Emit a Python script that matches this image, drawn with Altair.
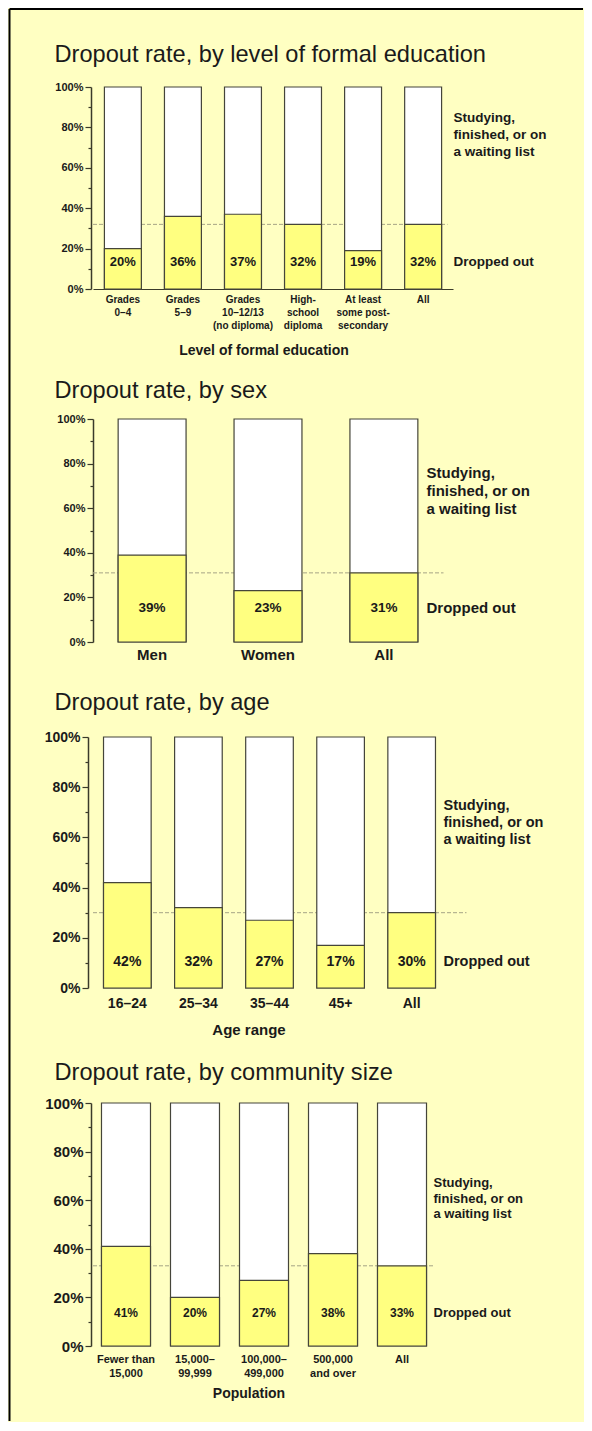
import altair as alt
import pandas as pd

FONT = "Liberation Sans"
BG = "#FFFFC2"
BAR_YELLOW = "#FFFF80"
STROKE = "#45453a"
AXIS_C = "#3a3a2a"
DASH_C = "#a6a485"
TEXT_C = "#1a1a1a"

edu_title = "Dropout rate, by level of formal education"
edu_categories = ["Grades\n0–4", "Grades\n5–9", "Grades\n10–12/13\n(no diploma)",
                  "High-\nschool\ndiploma", "At least\nsome post-\nsecondary", "All"]
edu_dropout = [20, 36, 37, 32, 19, 32]

sex_title = "Dropout rate, by sex"
sex_categories = ["Men", "Women", "All"]
sex_dropout = [39, 23, 31]

age_title = "Dropout rate, by age"
age_categories = ["16–24", "25–34", "35–44", "45+", "All"]
age_dropout = [42, 32, 27, 17, 30]

pop_title = "Dropout rate, by community size"
pop_categories = ["Fewer than\n15,000", "15,000–\n99,999", "100,000–\n499,000", "500,000\nand over", "All"]
pop_dropout = [41, 20, 27, 38, 33]

label_studying = "Studying,\nfinished, or on\na waiting list"
label_dropped = "Dropped out"
y_ticks = list(range(0, 101, 10))

BORDER_X = -83.5


def panel(title, cats, vals, c):
    df = pd.DataFrame({"cat": cats, "dropout": vals})
    one = pd.DataFrame({"k": [0]})
    W, H = c["W"], c["H"]
    xaxis_kw = dict(
        labelAngle=0, labelExpr="split(datum.label, '\\n')",
        labelFont=FONT, labelFontSize=c["xlab_fs"], labelFontWeight="bold",
        labelLineHeight=c["xlab_lh"], labelPadding=c["xlab_pad"], labelColor=TEXT_C,
        ticks=False, domain=c["baseline"], domainColor=AXIS_C, domainWidth=1.2,
        grid=False,
    )
    if c.get("xtitle"):
        xaxis_kw.update(title=c["xtitle"], titleFont=FONT, titleFontSize=c["xtitle_fs"],
                        titleFontWeight="bold", titleColor=TEXT_C,
                        titlePadding=c["xtitle_pad"], titleX=c["xtitle_x"])
    else:
        xaxis_kw.update(title=None)
    xenc = alt.X("cat:N", sort=cats,
                 scale=alt.Scale(paddingInner=c["pi"], paddingOuter=c["po"]),
                 axis=alt.Axis(**xaxis_kw))
    yscale = alt.Scale(domain=[0, 100], nice=False)
    yaxis = alt.Axis(
        title=None, values=y_ticks, grid=False,
        labelExpr="datum.value % 20 === 0 ? datum.value + '%' : ''",
        tickSize=alt.condition("datum.value % 20 === 0", alt.value(6), alt.value(3)),
        tickColor=AXIS_C, tickWidth=1.2, domainColor=AXIS_C, domainWidth=1.5,
        labelFont=FONT, labelFontSize=c["tick_fs"], labelFontWeight="bold",
        labelColor=TEXT_C, labelPadding=2, offset=c["yoff"],
    )

    white = alt.Chart(df).transform_calculate(full="100").mark_bar(
        fill="white", stroke=STROKE, strokeWidth=1.2
    ).encode(x=xenc, y=alt.Y("full:Q", scale=yscale, axis=yaxis))

    yellow = alt.Chart(df).mark_bar(
        fill=BAR_YELLOW, stroke=STROKE, strokeWidth=1.2
    ).encode(x=xenc, y=alt.Y("dropout:Q", scale=yscale, axis=yaxis))

    dash = alt.Chart(df).transform_filter(alt.datum.cat == "All").mark_rule(
        color=DASH_C, strokeWidth=1, strokeDash=[4, 2]
    ).encode(y=alt.Y("dropout:Q", scale=yscale, axis=yaxis),
             x=alt.value(0), x2=alt.value(c["dash_x2"]))

    pct = alt.Chart(df).transform_calculate(lbl="datum.dropout + '%'").mark_text(
        font=FONT, fontSize=c["pct_fs"], fontWeight="bold", color=TEXT_C, baseline="middle"
    ).encode(x=xenc, y=alt.value(c["pct_y"]), text="lbl:N")

    right1 = alt.Chart(one).mark_text(
        text=label_studying, lineBreak="\n", font=FONT, fontSize=c["right_fs"],
        fontWeight="bold", color=TEXT_C, align="left", baseline="middle",
        lineHeight=c["right_lh"]
    ).encode(x=alt.value(c["right_x"]), y=alt.value(c["studying_y"]))

    right2 = alt.Chart(one).mark_text(
        text=label_dropped, font=FONT, fontSize=c["right_fs"],
        fontWeight="bold", color=TEXT_C, align="left", baseline="middle"
    ).encode(x=alt.value(c["right_x"]), y=alt.value(c["dropped_y"]))

    ttl = alt.Chart(one).mark_text(
        text=title, font=FONT, fontSize=23.6, color=TEXT_C, align="left", baseline="alphabetic"
    ).encode(x=alt.value(-38.5), y=alt.value(c["title_y"]))

    border = alt.Chart(one).mark_rule(color="black", strokeWidth=2).encode(
        x=alt.value(BORDER_X), y=alt.value(c["top"]), y2=alt.value(c["bottom"]))

    layers = [border, dash, white, yellow, pct, right1, right2, ttl]
    if c.get("top_border"):
        topb = alt.Chart(one).mark_rule(color="black", strokeWidth=2).encode(
            x=alt.value(BORDER_X), x2=alt.value(490), y=alt.value(c["top"]))
        layers.insert(1, topb)
    return alt.layer(*layers).properties(width=W, height=H)


p1 = panel(edu_title, edu_categories, edu_dropout, dict(
    W=360, H=202, pi=0.385, po=0.19, yoff=2, tick_fs=11, xlab_fs=10, xlab_lh=13, xlab_pad=5,
    xtitle="Level of formal education", xtitle_fs=14, xtitle_pad=13, xtitle_x=170.5,
    right_x=360.5, studying_y=31, right_fs=13.5, right_lh=17, dropped_y=175,
    pct_y=175, pct_fs=13, dash_x2=354.5, baseline=True, title_y=-25,
    top=-78, bottom=278, top_border=True))

p2 = panel(sex_title, sex_categories, sex_dropout, dict(
    W=350, H=223, pi=0.414, po=0.217, yoff=0, tick_fs=11, xlab_fs=15, xlab_lh=17, xlab_pad=5,
    right_x=333.5, studying_y=54, right_fs=15, right_lh=18, dropped_y=189,
    pct_y=189, pct_fs=13.5, dash_x2=350.5, baseline=False, title_y=-21,
    top=-54, bottom=261))

p3 = panel(age_title, age_categories, age_dropout, dict(
    W=353, H=251, pi=0.33, po=0.148, yoff=5, tick_fs=14, xlab_fs=14, xlab_lh=16, xlab_pad=8,
    xtitle="Age range", xtitle_fs=15, xtitle_pad=12, xtitle_x=155.5,
    right_x=350.5, studying_y=69, right_fs=14.5, right_lh=17, dropped_y=225,
    pct_y=225, pct_fs=14, dash_x2=373.5, baseline=False, title_y=-27,
    top=-57, bottom=313))

p4 = panel(pop_title, pop_categories, pop_dropout, dict(
    W=342, H=243, pi=0.29, po=0.123, yoff=2, tick_fs=15, xlab_fs=11, xlab_lh=14, xlab_pad=7,
    xtitle="Population", xtitle_fs=14, xtitle_pad=8, xtitle_x=155.5,
    right_x=340.5, studying_y=80, right_fs=13, right_lh=15.5, dropped_y=210,
    pct_y=210, pct_fs=12, dash_x2=342, baseline=False, title_y=-23,
    top=-53, bottom=318))

chart = alt.vconcat(p1, p2, p3, p4, spacing=-2).properties(
    padding=0, background=BG
).configure_view(strokeWidth=0)

chart.save("out.html", embed_options={"renderer": "svg", "actions": False})
